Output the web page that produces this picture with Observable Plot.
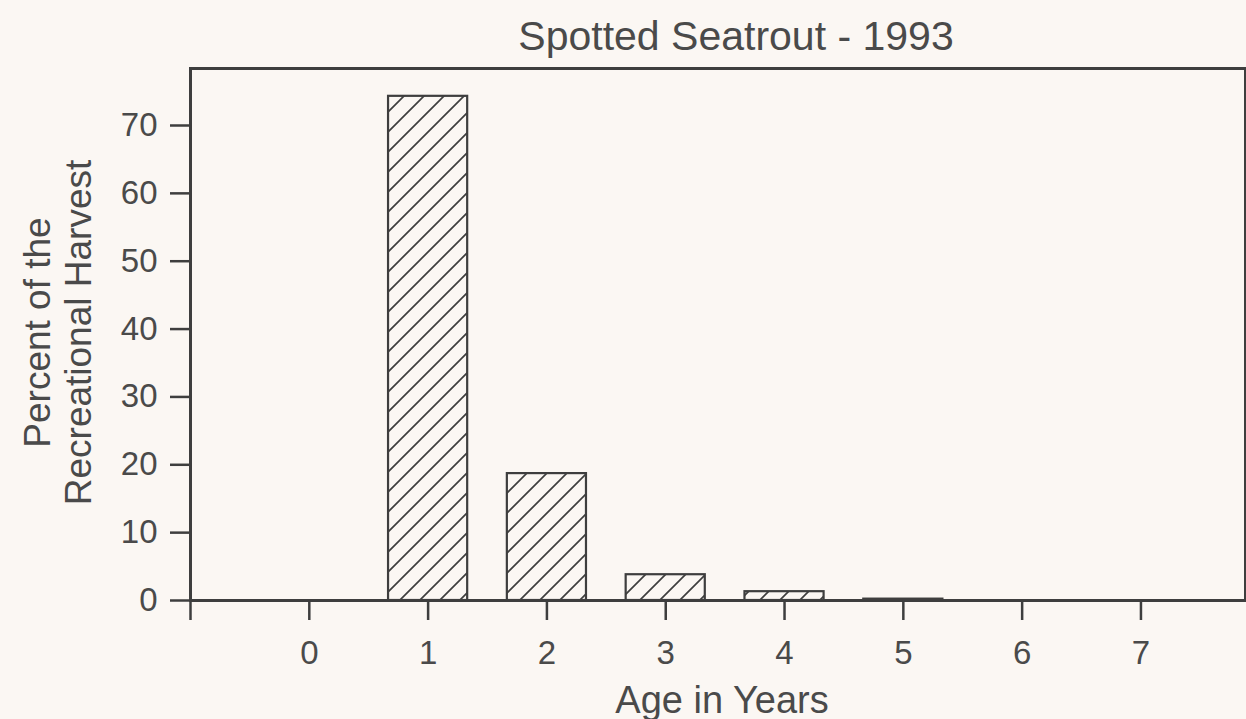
<!DOCTYPE html>
<html>
<head>
<meta charset="utf-8">
<script src="https://cdn.jsdelivr.net/npm/d3@7"></script>
<script src="https://cdn.jsdelivr.net/npm/@observablehq/plot@0.6"></script>
<style>
  html, body { margin: 0; padding: 0; background: #fbf7f3; }
  #chart svg { display: block; }
</style>
</head>
<body>
<div id="chart"></div>
<script>
// ---- Data ----
const ages = [0, 1, 2, 3, 4, 5, 6, 7];
const percents = [0, 74.3, 18.7, 3.8, 1.3, 0.2, 0, 0];
const yTicks = [0, 10, 20, 30, 40, 50, 60, 70];
const xTicks = [-1, 0, 1, 2, 3, 4, 5, 6, 7];
const titleText = "Spotted Seatrout - 1993";
const xLabel = "Age in Years";
const yLabelLines = ["Percent of the", "Recreational Harvest"];

const data = ages.map((a, i) => ({age: a, pct: percents[i]})).filter(d => d.pct > 0);

const ink = "#3e3e3e";
const textInk = "#4a4a4a";
const font = "Liberation Sans, Arial, Helvetica, sans-serif";
const half = 0.333;

const chart = Plot.plot({
  width: 1246,
  height: 719,
  marginLeft: 190,
  marginRight: 1,
  marginTop: 68,
  marginBottom: 119,
  style: {background: "#fbf7f3", color: ink, fontFamily: font},
  x: {type: "linear", domain: [-1, 7.88], axis: null},
  y: {domain: [0, 78.4], axis: null},
  marks: [
    Plot.rectY(data, {
      x1: d => d.age - half,
      x2: d => d.age + half,
      y1: 0,
      y2: "pct",
      fill: "url(#hatch)",
      stroke: ink,
      strokeWidth: 2.2
    }),
    Plot.frame({stroke: ink, strokeWidth: 3}),
    Plot.axisY({
      ticks: yTicks,
      tickSize: 20,
      tickPadding: 13,
      fontSize: 33,
      fill: textInk,
      strokeWidth: 2.5,
      label: null
    }),
    Plot.axisX({
      ticks: xTicks,
      tickFormat: d => (d < 0 ? "" : String(d)),
      tickSize: 20,
      tickPadding: 20,
      fontSize: 33,
      fill: textInk,
      strokeWidth: 2.5,
      label: null
    }),
    Plot.text([titleText], {
      text: d => d,
      frameAnchor: "top",
      textAnchor: "middle",
      lineAnchor: "bottom",
      dx: 18,
      dy: -19,
      fontSize: 41,
      fill: textInk
    }),
    Plot.text([xLabel], {
      text: d => d,
      frameAnchor: "bottom",
      textAnchor: "middle",
      lineAnchor: "bottom",
      dx: 4,
      dy: 112,
      fontSize: 38,
      fill: textInk
    }),
    Plot.text([yLabelLines[0]], {
      text: d => d,
      frameAnchor: "left",
      textAnchor: "middle",
      lineAnchor: "bottom",
      rotate: -90,
      dx: -141,
      dy: -2,
      fontSize: 37,
      fill: textInk
    }),
    Plot.text([yLabelLines[1]], {
      text: d => d,
      frameAnchor: "left",
      textAnchor: "middle",
      lineAnchor: "bottom",
      rotate: -90,
      dx: -100,
      dy: -2,
      fontSize: 37,
      fill: textInk
    })
  ]
});

// hatch pattern definition
const ns = "http://www.w3.org/2000/svg";
const defs = document.createElementNS(ns, "defs");
const pat = document.createElementNS(ns, "pattern");
pat.setAttribute("id", "hatch");
pat.setAttribute("patternUnits", "userSpaceOnUse");
pat.setAttribute("width", "20");
pat.setAttribute("height", "20");
const path = document.createElementNS(ns, "path");
path.setAttribute("d", "M0,20 L20,0 M-5,5 L5,-5 M15,25 L25,15");
path.setAttribute("stroke", ink);
path.setAttribute("stroke-width", "1.7");
path.setAttribute("fill", "none");
pat.appendChild(path);
defs.appendChild(pat);
chart.insertBefore(defs, chart.firstChild);

document.getElementById("chart").appendChild(chart);
</script>
</body>
</html>
